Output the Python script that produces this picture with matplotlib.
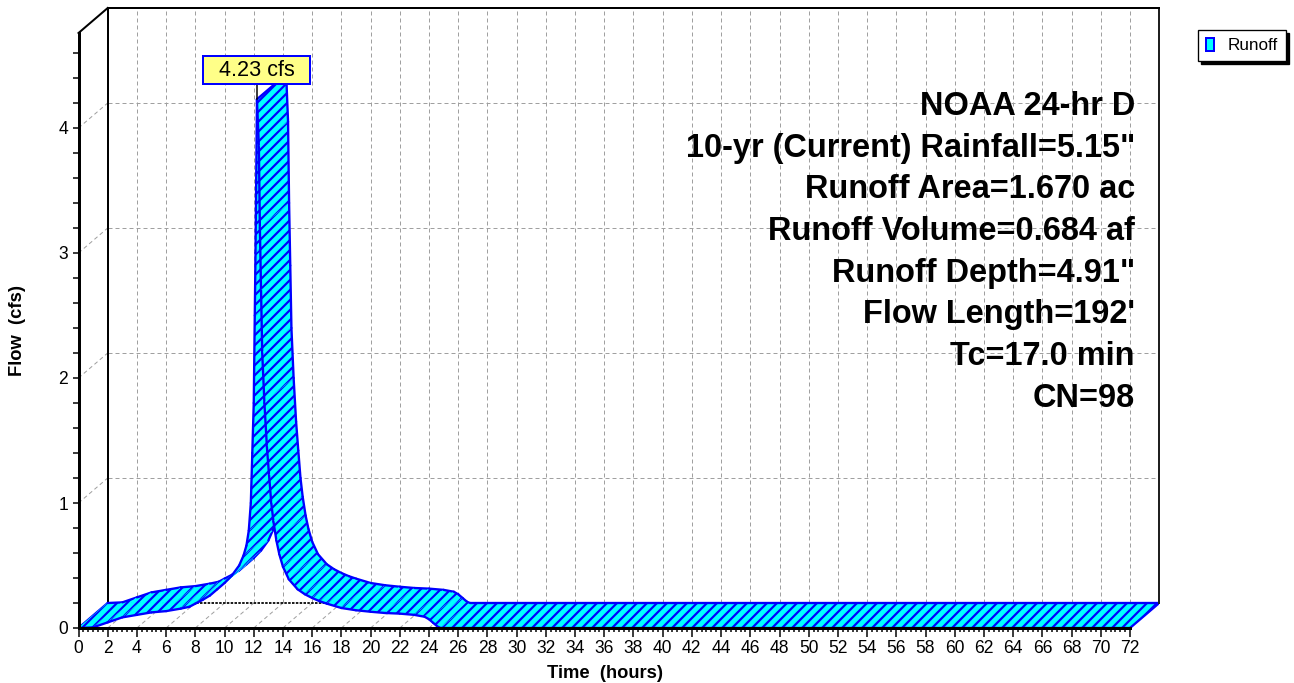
import matplotlib
matplotlib.use("Agg")
import matplotlib.pyplot as plt
from matplotlib.patches import Polygon, Rectangle, Patch
import numpy as np

# ---------------- data ----------------
time_hr = [0.0, 1.0, 2.0, 3.0, 4.0, 5.0, 6.0, 7.0, 7.6, 8.0, 8.5, 9.0, 9.5, 10.0,
           10.5, 11.0, 11.3, 11.5, 11.66, 11.8, 11.9, 12.0, 12.07, 12.12, 12.22,
           12.35, 12.42, 12.5, 12.58, 12.73, 12.9, 13.05, 13.2, 13.35, 13.55,
           13.75, 14.0, 14.4, 15.0, 15.5, 16.0, 16.5, 17.0, 18.0, 19.0, 20.0,
           21.0, 22.0, 23.0, 23.7, 24.0, 24.3, 24.6, 24.8, 72.0]
flow_cfs = [0.0, 0.005, 0.045, 0.085, 0.105, 0.125, 0.135, 0.155, 0.17, 0.195,
            0.225, 0.26, 0.31, 0.36, 0.42, 0.50, 0.58, 0.66, 0.78, 1.0, 1.4, 1.8,
            2.5, 3.0, 4.23, 3.85, 3.2, 2.7, 2.2, 1.8, 1.45, 1.22, 1.0, 0.85, 0.70,
            0.59, 0.49, 0.39, 0.31, 0.27, 0.24, 0.215, 0.195, 0.16, 0.142, 0.13,
            0.12, 0.115, 0.105, 0.09, 0.07, 0.04, 0.01, 0.0, 0.0]
series_name = "Runoff"
x_ticks = list(range(0, 73, 2))
y_ticks = [0, 1, 2, 3, 4]
info_lines = ["NOAA 24-hr D",
              "10-yr (Current) Rainfall=5.15\"",
              "Runoff Area=1.670 ac",
              "Runoff Volume=0.684 af",
              "Runoff Depth=4.91\"",
              "Flow Length=192'",
              "Tc=17.0 min",
              "CN=98"]
x_label = "Time  (hours)"
y_label = "Flow  (cfs)"

# ---------------- style ----------------
CYAN = "#00ffff"
BLUE = "#0000ff"
GRID = "#a0a0a0"
DPI = 120
W, H = 1294, 683

plt.rcParams["font.family"] = ["Liberation Sans", "DejaVu Sans"]
plt.rcParams["hatch.color"] = BLUE
plt.rcParams["hatch.linewidth"] = 1.3
plt.rcParams["lines.scale_dashes"] = False

fig = plt.figure(figsize=(W / DPI, H / DPI), dpi=DPI)

x_front_max = 72.0
front_top = 4.76
depth_t = 2.0      # oblique depth offset, in hours
depth_q = 0.2      # oblique depth offset, in cfs
px_per_hr = (1130.0 - 78.5) / 72.0
px_per_cfs = 125.0
left_px, bottom_px = 78.5, 628.0
x_max = x_front_max + depth_t
y_max = front_top + depth_q

ax = fig.add_axes([left_px / W, (H - bottom_px) / H,
                   x_max * px_per_hr / W, y_max * px_per_cfs / H])
ax.set_xlim(0, x_max)
ax.set_ylim(0, y_max)
ax.set_facecolor("white")

# spines: front axes + back-wall frame
ax.spines["bottom"].set_bounds(0, x_front_max)
ax.spines["bottom"].set_linewidth(1.8)
ax.spines["left"].set_bounds(0, front_top)
ax.spines["left"].set_linewidth(1.8)
ax.spines["top"].set_bounds(depth_t, x_max)
ax.spines["top"].set_linewidth(1.2)
ax.spines["right"].set_bounds(depth_q, y_max)
ax.spines["right"].set_linewidth(1.2)
ax.spines["right"].set_linestyle((0, (1.5, 0.8)))
ax.spines["right"].set_color("#202020")
for s in ax.spines.values():
    s.set_zorder(5)

ax.set_xticks(x_ticks)
ax.set_xticklabels([str(v) for v in x_ticks])
ax.set_xticks(np.linspace(0, 72, 217), minor=True)
ax.set_yticks(y_ticks)
ax.set_yticklabels([str(v) for v in y_ticks])
ax.set_yticks(np.arange(0, front_top + 0.001, 0.2), minor=True)
ax.tick_params(axis="x", which="major", length=5.4, width=0.9, labelsize=10.5, pad=2)
ax.tick_params(axis="x", which="minor", length=2.4, width=0.9)
ax.tick_params(axis="y", which="both", length=3.6, width=0.9, labelsize=10.5, pad=2.5)

dash = (0, (2.4, 1.8))
# back wall grid
for tv in x_ticks[1:-1]:
    ax.plot([tv + depth_t, tv + depth_t], [depth_q, y_max], color=GRID, lw=0.6,
            linestyle=dash, zorder=1)
    ax.plot([tv, tv + depth_t], [0, depth_q], color=GRID, lw=0.6, linestyle=dash, zorder=1)
for qv in y_ticks[1:]:
    ax.plot([depth_t, x_max], [qv + depth_q, qv + depth_q], color=GRID, lw=0.6,
            linestyle=dash, zorder=1)
    ax.plot([0, depth_t], [qv, qv + depth_q], color=GRID, lw=0.6, linestyle=dash, zorder=1)
# back wall edges
ax.plot([depth_t, x_max], [depth_q, depth_q], color="#202020", lw=1.2,
        linestyle=(0, (1.5, 0.8)), zorder=1.5)
ax.plot([depth_t, depth_t], [depth_q, y_max], color="black", lw=1.2, zorder=1.5)
ax.plot([0, depth_t], [front_top, y_max], color="black", lw=1.2, zorder=1.5,
        clip_on=False)

# ---------------- ribbon ----------------
t = np.asarray(time_hr, dtype=float)
q = np.asarray(flow_cfs, dtype=float)
ip = int(np.argmax(q))
Z = 3
EDGE_LW = 1.4


def depth_edge(i):
    ax.plot([t[i], t[i] + depth_t], [q[i], q[i] + depth_q], color=BLUE, lw=EDGE_LW,
            zorder=Z, solid_capstyle="round")


depth_edge(0)
for i in range(len(t) - 1):
    quad = [(t[i], q[i]), (t[i + 1], q[i + 1]),
            (t[i + 1] + depth_t, q[i + 1] + depth_q), (t[i] + depth_t, q[i] + depth_q)]
    ax.add_patch(Polygon(quad, closed=True, facecolor=CYAN, edgecolor=CYAN,
                         lw=0.4, zorder=Z))
    ax.add_patch(Polygon(quad, closed=True, facecolor="none", hatch="////",
                         lw=0, zorder=Z))
    ax.plot([t[i], t[i + 1]], [q[i], q[i + 1]], color=BLUE, lw=EDGE_LW, zorder=Z,
            solid_capstyle="round")
    ax.plot([t[i] + depth_t, t[i + 1] + depth_t],
            [q[i] + depth_q, q[i + 1] + depth_q], color=BLUE, lw=EDGE_LW, zorder=Z,
            solid_capstyle="round")
    if i == ip:
        depth_edge(ip)
depth_edge(len(t) - 1)

# ---------------- peak label ----------------
box_w = 107 / px_per_hr
box_h = 28 / px_per_cfs
gap = 15 / px_per_cfs
tp, qp = t[ip], q[ip]
ax.plot([tp, tp], [qp, qp + gap], color="black", lw=0.9, zorder=6, clip_on=False)
ax.add_patch(Rectangle((tp - box_w / 2, qp + gap), box_w, box_h, facecolor="#ffff88",
                       edgecolor=BLUE, lw=1.2, zorder=6, clip_on=False))
ax.text(tp, qp + gap + box_h / 2, f"{qp:.2f} cfs", ha="center", va="center",
        fontsize=13, zorder=7, clip_on=False)

# ---------------- info text block ----------------
for k, line in enumerate(info_lines):
    fig.text(1135 / W, 1 - (115 + k * 41.7) / H, line, ha="right", va="baseline",
             fontsize=19.5, fontweight="bold")

# axis titles
fig.text(18 / W, 1 - 330 / H, y_label, rotation=90, ha="center", va="center",
         fontsize=11, fontweight="bold")
fig.text(605 / W, 1 - 673 / H, x_label, ha="center", va="center",
         fontsize=11, fontweight="bold")

# legend
handle = Patch(facecolor=CYAN, edgecolor=BLUE, lw=1.2, label=series_name)
leg = fig.legend(handles=[handle], loc="upper right",
                 bbox_to_anchor=(1286 / W, 1 - 30 / H), bbox_transform=fig.transFigure,
                 borderaxespad=0, frameon=True, fancybox=False,
                 shadow={"color": "black", "alpha": 1.0}, fontsize=10.3,
                 handlelength=0.5, handleheight=0.8, handletextpad=0.8,
                 borderpad=0.45)
leg.get_frame().set_edgecolor("black")
leg.get_frame().set_linewidth(0.8)

fig.savefig("out.png", dpi=DPI)
